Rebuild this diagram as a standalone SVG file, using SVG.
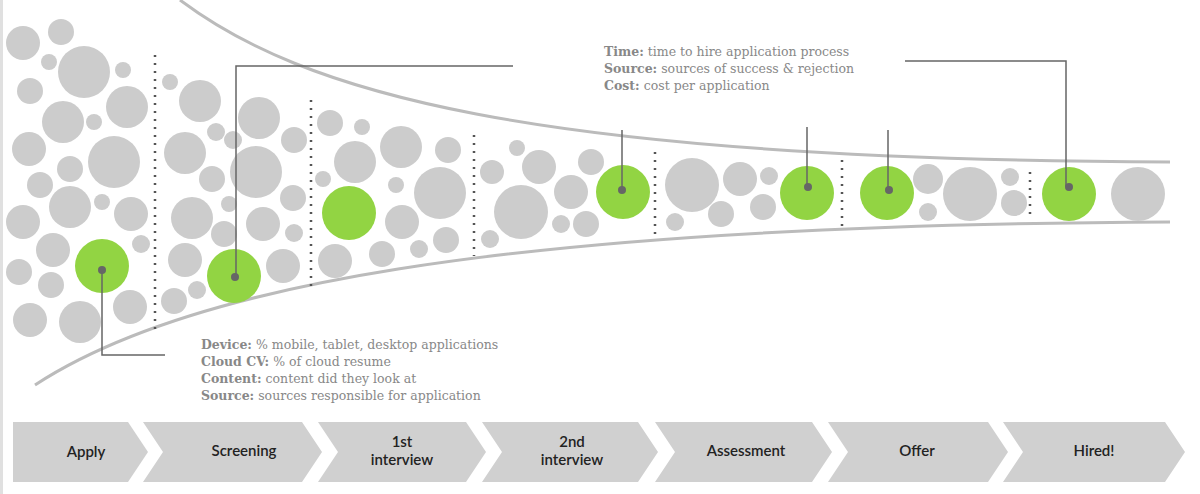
<svg xmlns="http://www.w3.org/2000/svg" width="1200" height="494" viewBox="0 0 1200 494">
<style>
.g{fill:#cccccc}.gr{fill:#92d443}.dot{fill:#666}
.fun{fill:none;stroke:#bbbbbb;stroke-width:3}
.dv{stroke:#555;stroke-width:2.5;stroke-dasharray:2 6}
.ld{fill:none;stroke:#666;stroke-width:1.5}
.t{font-family:"DejaVu Serif","Liberation Serif",serif;font-size:12.5px;fill:#888}
.t tspan.b{font-weight:bold}
.ch{fill:#d0d0d0}
.cl{font-family:Lato,"Liberation Sans",sans-serif;font-size:15px;fill:#222;text-anchor:middle;font-weight:600}
</style>
<rect width="1200" height="494" fill="#fff"/>
<line x1="1.5" y1="0" x2="1.5" y2="494" stroke="#e0e0e0" stroke-width="3"/>
<g id="funnel">
<path class="fun" d="M180,0 C300,90 520,160 1170,162"/>
<path class="fun" d="M35,385 C180,290 480,225 1170,222"/>
</g>
<g id="dividers">
<line class="dv" x1="155" y1="55" x2="155" y2="330"/>
<line class="dv" x1="311" y1="100" x2="311" y2="286"/>
<line class="dv" x1="474" y1="135" x2="474" y2="256"/>
<line class="dv" x1="655" y1="152" x2="655" y2="236"/>
<line class="dv" x1="842" y1="160" x2="842" y2="230"/>
<line class="dv" x1="1030" y1="172" x2="1030" y2="216"/>
</g>
<g id="bubbles">
<circle class="g" cx="23" cy="43" r="17"/><circle class="g" cx="61" cy="32" r="13"/><circle class="g" cx="49" cy="62" r="8"/><circle class="g" cx="84" cy="72" r="26"/><circle class="g" cx="123" cy="70" r="8"/><circle class="g" cx="30" cy="91" r="13"/><circle class="g" cx="63" cy="122" r="21"/><circle class="g" cx="94" cy="122" r="8"/><circle class="g" cx="127" cy="107" r="21"/><circle class="g" cx="29" cy="149" r="17"/><circle class="g" cx="70" cy="169" r="13"/><circle class="g" cx="114" cy="162" r="26"/><circle class="g" cx="40" cy="185" r="13"/><circle class="g" cx="70" cy="207" r="21"/><circle class="g" cx="102" cy="202" r="8"/><circle class="g" cx="23" cy="222" r="17"/><circle class="g" cx="131" cy="214" r="17"/><circle class="g" cx="53" cy="250" r="17"/><circle class="g" cx="141" cy="244" r="9"/><circle class="g" cx="19" cy="272" r="13"/><circle class="g" cx="51" cy="285" r="13"/><circle class="g" cx="30" cy="320" r="17"/><circle class="g" cx="80" cy="322" r="21"/><circle class="g" cx="130" cy="307" r="17"/>
<circle class="g" cx="170" cy="82" r="8"/><circle class="g" cx="200" cy="101" r="21"/><circle class="g" cx="259" cy="118" r="21"/><circle class="g" cx="216" cy="132" r="9"/><circle class="g" cx="233" cy="140" r="9"/><circle class="g" cx="185" cy="153" r="21"/><circle class="g" cx="256" cy="172" r="26"/><circle class="g" cx="212" cy="179" r="13"/><circle class="g" cx="294" cy="140" r="13"/><circle class="g" cx="192" cy="218" r="21"/><circle class="g" cx="229" cy="204" r="8"/><circle class="g" cx="224" cy="234" r="13"/><circle class="g" cx="263" cy="224" r="17"/><circle class="g" cx="293" cy="198" r="13"/><circle class="g" cx="185" cy="260" r="17"/><circle class="g" cx="294" cy="233" r="9"/><circle class="g" cx="283" cy="266" r="17"/><circle class="g" cx="174" cy="301" r="13"/><circle class="g" cx="197" cy="290" r="9"/>
<circle class="g" cx="330" cy="123" r="13"/><circle class="g" cx="362" cy="127" r="8"/><circle class="g" cx="355" cy="162" r="21"/><circle class="g" cx="401" cy="147" r="21"/><circle class="g" cx="323" cy="179" r="8"/><circle class="g" cx="396" cy="185" r="8"/><circle class="g" cx="440" cy="193" r="26"/><circle class="g" cx="402" cy="222" r="17"/><circle class="g" cx="335" cy="261" r="17"/><circle class="g" cx="382" cy="254" r="13"/><circle class="g" cx="419" cy="249" r="9"/><circle class="g" cx="446" cy="240" r="13"/><circle class="g" cx="448" cy="150" r="13"/>
<circle class="g" cx="492" cy="172" r="12"/><circle class="g" cx="517" cy="148" r="8"/><circle class="g" cx="539" cy="167" r="17"/><circle class="g" cx="591" cy="162" r="13"/><circle class="g" cx="521" cy="212" r="27"/><circle class="g" cx="571" cy="192" r="17"/><circle class="g" cx="561" cy="224" r="9"/><circle class="g" cx="586" cy="224" r="13"/><circle class="g" cx="490" cy="239" r="9"/>
<circle class="g" cx="692" cy="185" r="27"/><circle class="g" cx="740" cy="179" r="17"/><circle class="g" cx="769" cy="176" r="9"/><circle class="g" cx="721" cy="214" r="13"/><circle class="g" cx="763" cy="207" r="13"/><circle class="g" cx="675" cy="222" r="9"/>
<circle class="g" cx="928" cy="179" r="15"/><circle class="g" cx="970" cy="194" r="27"/><circle class="g" cx="928" cy="212" r="9"/><circle class="g" cx="1010" cy="177" r="9"/><circle class="g" cx="1014" cy="203" r="13"/>
<circle class="g" cx="1138" cy="194" r="27"/>
</g>
<g id="highlights">
<circle class="gr" cx="102" cy="266" r="27"/><circle class="gr" cx="234" cy="276" r="27"/><circle class="gr" cx="349" cy="213" r="27"/><circle class="gr" cx="623" cy="192" r="27"/><circle class="gr" cx="807" cy="193" r="27"/><circle class="gr" cx="887" cy="193" r="27"/><circle class="gr" cx="1069" cy="194" r="27"/>
</g>
<g id="connectors">
<polyline class="ld" points="102,270 102,355 165,355"/>
<polyline class="ld" points="236,276 236,66 513,66"/>
<polyline class="ld" points="622,190 622,130"/>
<polyline class="ld" points="807,187 807,127"/>
<polyline class="ld" points="888,190 888,130"/>
<polyline class="ld" points="1066,187 1066,61 905,61"/>
<circle class="dot" cx="102" cy="270" r="4"/><circle class="dot" cx="235" cy="277" r="4"/><circle class="dot" cx="622" cy="190" r="4"/><circle class="dot" cx="808" cy="187" r="4"/><circle class="dot" cx="889" cy="190" r="4"/><circle class="dot" cx="1069" cy="187" r="4"/>
</g>
<g id="note-top">
<text class="t" x="604" y="56"><tspan class="b">Time:</tspan> time to hire application process</text>
<text class="t" x="604" y="73"><tspan class="b">Source:</tspan> sources of success &amp; rejection</text>
<text class="t" x="604" y="90"><tspan class="b">Cost:</tspan> cost per application</text>
</g>
<g id="note-bottom">
<text class="t" x="201" y="349"><tspan class="b">Device:</tspan> % mobile, tablet, desktop applications</text>
<text class="t" x="201" y="366"><tspan class="b">Cloud CV:</tspan> % of cloud resume</text>
<text class="t" x="201" y="383"><tspan class="b">Content:</tspan> content did they look at</text>
<text class="t" x="201" y="400"><tspan class="b">Source:</tspan> sources responsible for application</text>
</g>
<g id="stage-apply"><polygon class="ch" points="13,422 128,422 148,452 128,482 13,482"/><text class="cl" x="86" y="457">Apply</text></g>
<g id="stage-screening"><polygon class="ch" points="143,422 302,422 322,452 302,482 143,482 163,452"/><text class="cl" x="244" y="456">Screening</text></g>
<g id="stage-1st"><polygon class="ch" points="318,422 466,422 486,452 466,482 318,482 338,452"/><text class="cl" x="402" y="447">1st</text><text class="cl" x="402" y="465">interview</text></g>
<g id="stage-2nd"><polygon class="ch" points="482,422 638,422 658,452 638,482 482,482 502,452"/><text class="cl" x="572" y="447">2nd</text><text class="cl" x="572" y="465">interview</text></g>
<g id="stage-assessment"><polygon class="ch" points="655,422 812,422 832,452 812,482 655,482 675,452"/><text class="cl" x="746" y="456">Assessment</text></g>
<g id="stage-offer"><polygon class="ch" points="828,422 988,422 1008,452 988,482 828,482 848,452"/><text class="cl" x="917" y="456">Offer</text></g>
<g id="stage-hired"><polygon class="ch" points="1003,422 1165,422 1185,452 1165,482 1003,482 1023,452"/><text class="cl" x="1094" y="456">Hired!</text></g>
</svg>
